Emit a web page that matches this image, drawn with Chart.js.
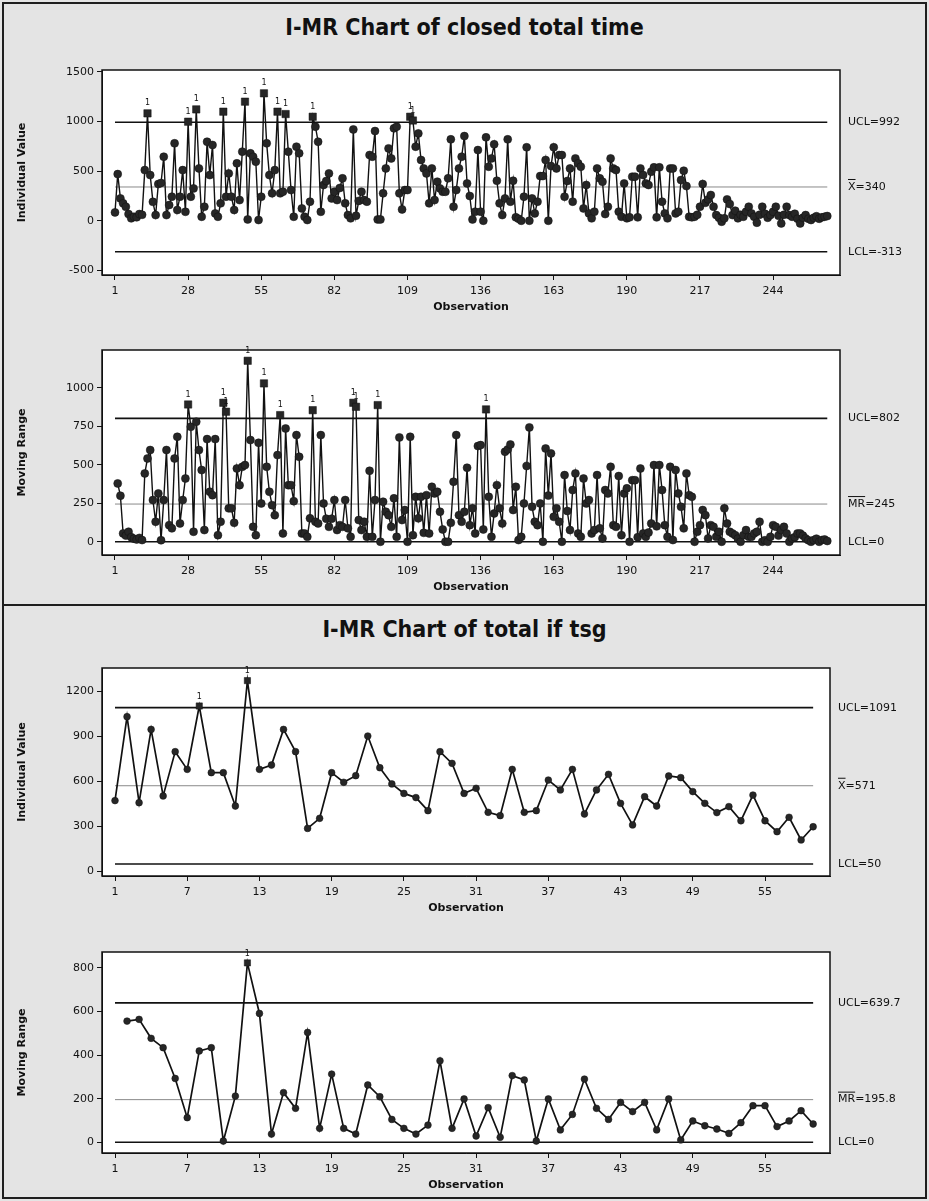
<!DOCTYPE html>
<html>
<head>
<meta charset="utf-8">
<script src="https://cdn.jsdelivr.net/npm/chart.js@4.4.1/dist/chart.umd.min.js"></script>
<style>
  body { margin: 0; background: #e4e4e4; }
  #page { position: relative; width: 929px; height: 1201px; overflow: hidden; background: #e4e4e4; }
  .frame { position: absolute; left: 2px; width: 921px; border: 2px solid #1e1e1e; }
  .title { position: absolute; left: 0; width: 929px; text-align: center; font: bold 23px "DejaVu Sans Condensed", "DejaVu Sans", sans-serif; color: #111; }
  canvas { position: absolute; left: 0; }
</style>
</head>
<body>
<div id="page">
  <div class="frame" style="top:2px;height:600px"></div>
  <div class="frame" style="top:604px;height:591px"></div>
  <div class="title" style="top:14px">I-MR Chart of closed total time</div>
  <div class="title" style="top:616px">I-MR Chart of total if tsg</div>
  <canvas id="closedI" width="929" height="254" style="top:60px"></canvas>
  <canvas id="closedMR" width="929" height="254" style="top:340px"></canvas>
  <canvas id="tsgI" width="929" height="257" style="top:658px"></canvas>
  <canvas id="tsgMR" width="929" height="250" style="top:942px"></canvas>
</div>
<script>
// closed total time, individual values (obs 1..264)
const closedIndividual = [
    84, 470, 225, 175, 140, 67, 24, 40, 35, 67,
    60, 510, 1082, 460, 190, 57, 370, 380, 645, 57,
    158, 242, 780, 108, 242, 510, 90, 998, 242, 326,
    1122, 527, 40, 141, 796, 460, 763, 74, 40, 175,
    1099, 242, 477, 242, 108, 578, 208, 696, 1200, 13,
    679, 645, 595, 7, 242, 1284, 780, 460, 276, 510,
    1099, 276, 292, 1075, 696, 309, 40, 746, 679, 124,
    40, 7, 192, 1048, 948, 796, 90, 360, 400, 477,
    225, 292, 208, 330, 427, 175, 57, 24, 920, 50,
    200, 292, 208, 192, 662, 645, 904, 13, 13, 276,
    527, 729, 628, 931, 948, 276, 114, 309, 309, 1048,
    1010, 746, 880, 612, 527, 477, 175, 527, 208, 393,
    326, 292, 292, 427, 820, 141, 309, 527, 645, 853,
    376, 249, 13, 91, 712, 91, 0, 840, 544, 628,
    770, 403, 175, 57, 225, 820, 192, 403, 34, 20,
    0, 242, 740, 0, 225, 74, 192, 450, 450, 612,
    0, 551, 740, 527, 662, 662, 242, 400, 527, 192,
    628, 578, 544, 124, 360, 74, 24, 91, 527, 427,
    393, 67, 141, 628, 527, 510, 91, 40, 376, 24,
    34, 444, 444, 34, 527, 460, 376, 360, 494, 538,
    34, 538, 192, 74, 24, 527, 527, 74, 91, 410,
    504, 349, 40, 34, 40, 60, 141, 370, 181, 215,
    259, 141, 57, 30, -10, 24, 215, 168, 57, 101,
    24, 60, 40, 90, 141, 74, 40, -20, 60, 141,
    70, 30, 57, 90, 141, 50, -27, 60, 141, 57,
    40, 70, 20, -27, 30, 57, 20, 7, 30, 45,
    20, 34, 40, 47
];

// closed total time, moving ranges (obs 2..264)
const closedMovingRange = [
    379, 299, 54, 40, 65, 30, 20, 15, 25, 11,
    444, 541, 596, 271, 130, 314, 10, 271, 596, 108,
    87, 541, 682, 119, 271, 411, 892, 747, 65, 780,
    596, 466, 76, 667, 325, 303, 667, 43, 130, 903,
    845, 217, 217, 123, 476, 368, 487, 498, 1176, 661,
    97, 43, 643, 249, 1029, 487, 325, 238, 173, 563,
    823, 54, 736, 368, 368, 264, 693, 552, 54, 54,
    32, 152, 855, 130, 119, 693, 249, 150, 97, 150,
    271, 76, 108, 97, 271, 87, 32, 903, 877, 141,
    76, 130, 32, 461, 32, 271, 888, 0, 260, 195,
    173, 97, 282, 32, 678, 141, 206, 0, 682, 43,
    292, 152, 292, 58, 303, 54, 357, 314, 325, 195,
    80, 0, 0, 123, 390, 693, 173, 130, 195, 481,
    108, 217, 54, 622, 628, 80, 860, 292, 32, 184,
    368, 217, 119, 585, 600, 632, 206, 357, 11, 32,
    249, 492, 743, 227, 130, 108, 249, 0, 606, 300,
    574, 162, 217, 130, 0, 433, 200, 76, 336, 444,
    54, 32, 411, 249, 271, 54, 76, 433, 87, 22,
    336, 314, 487, 108, 97, 427, 43, 314, 347, 0,
    400, 400, 30, 476, 54, 32, 60, 119, 498, 100,
    498, 336, 108, 32, 487, 11, 466, 314, 227, 87,
    444, 303, 292, 0, 65, 108, 206, 173, 22, 108,
    97, 32, 65, 0, 217, 119, 65, 54, 43, 20,
    0, 43, 76, 32, 32, 54, 65, 130, 0, 10,
    0, 32, 108, 97, 40, 76, 97, 54, 0, 22,
    30, 54, 54, 40, 22, 10, 0, 11, 20, 0,
    11, 15, 5
];

// total if tsg, individual values (obs 1..59)
const tsgIndividual = [
    472, 1031, 458, 946, 503, 798, 680, 1102, 658, 658,
    436, 1271, 680, 709, 946, 798, 287, 354, 658, 594,
    638, 902, 691, 583, 520, 492, 405, 798, 720, 520,
    554, 394, 372, 680, 394, 405, 609, 543, 680, 383,
    543, 647, 454, 310, 498, 436, 636, 625, 532, 454,
    392, 432, 338, 509, 338, 265, 361, 210, 298
];

// total if tsg, moving ranges (obs 2..59)
const tsgMovingRange = [
    556, 564, 477, 434, 293, 113, 419, 434, 6, 212,
    823, 591, 38, 228, 156, 504, 64, 313, 64, 38,
    263, 209, 105, 64, 38, 79, 374, 64, 199, 29,
    159, 23, 306, 286, 6, 199, 57, 128, 290, 156,
    105, 183, 141, 183, 57, 199, 11, 98, 76, 61,
    41, 90, 168, 168, 72, 98, 145, 84
];

// control limits: [UCL, centre, LCL]
const closedILimits = [992, 340, -313];
const closedMRLimits = [802, 245, 0];
const tsgILimits = [1091, 571, 50];
const tsgMRLimits = [639.7, 195.8, 0];

// tick labels
const closedObsTicks = [1, 28, 55, 82, 109, 136, 163, 190, 217, 244];
const tsgObsTicks = [1, 7, 13, 19, 25, 31, 37, 43, 49, 55];
const closedIYTicks = [-500, 0, 500, 1000, 1500];
const closedMRYTicks = [0, 250, 500, 750, 1000];
const tsgIYTicks = [0, 300, 600, 900, 1200];
const tsgMRYTicks = [0, 200, 400, 600, 800];

const FONT = '"DejaVu Sans", Verdana, sans-serif';

const spcPlugin = {
    id: "spc",
    beforeDraw(chart) {
        const a = chart.chartArea, c = chart.ctx;
        c.save();
        c.fillStyle = "#ffffff";
        c.fillRect(a.left, a.top, a.right - a.left, a.bottom - a.top);
        c.restore();
    },
    afterDraw(chart, args, o) {
        const a = chart.chartArea, c = chart.ctx, y = chart.scales.y;
        c.save();
        c.strokeStyle = "#111";
        c.lineWidth = 1.5;
        c.strokeRect(a.left, a.top, a.right - a.left, a.bottom - a.top);

        // limit labels on the right
        c.fillStyle = "#111";
        c.font = "11px " + FONT;
        c.textBaseline = "middle";
        c.textAlign = "left";
        o.labels.forEach(function (lab, i) {
            const py = y.getPixelForValue(o.limits[i]);
            const px = a.right + o.labelGap;
            c.fillText(lab[0] + lab[1], px, py);
            if (lab[2]) {
                const w = c.measureText(lab[0]).width;
                c.lineWidth = 1;
                c.beginPath();
                c.moveTo(px, py - 7.5);
                c.lineTo(px + w, py - 7.5);
                c.stroke();
            }
        });

        // "1" above out-of-control points
        c.font = "8px " + FONT;
        c.textAlign = "center";
        c.textBaseline = "bottom";
        const meta = chart.getDatasetMeta(0);
        meta.data.forEach(function (pt, i) {
            if (o.values[i] > o.limits[0]) {
                c.fillText("1", pt.x, pt.y - o.radius - 2);
            }
        });
        c.restore();
    }
};

function buildChart(id, cfg) {
    const pts = cfg.values.map(function (v, i) {
        return { x: i + cfg.firstObs, y: v };
    });
    const n = cfg.lastObs;
    const limitSets = cfg.limits.map(function (v, i) {
        return {
            data: [{ x: 1, y: v }, { x: n, y: v }],
            borderColor: i === 1 ? "#8a8a8a" : "#111",
            borderWidth: i === 1 ? 1 : 1.6,
            pointRadius: 0,
            fill: false
        };
    });
    const ucl = cfg.limits[0];
    new Chart(document.getElementById(id).getContext("2d"), {
        type: "line",
        data: {
            datasets: [
                {
                    data: pts,
                    borderColor: "#111",
                    borderWidth: cfg.lineWidth,
                    backgroundColor: "#262626",
                    pointBackgroundColor: "#262626",
                    pointBorderColor: "#111",
                    pointBorderWidth: 0.5,
                    pointStyle: function (ctx) {
                        return ctx.raw && ctx.raw.y > ucl ? "rect" : "circle";
                    },
                    pointRadius: function (ctx) {
                        return ctx.raw && ctx.raw.y > ucl ? cfg.radius * 1.3 : cfg.radius;
                    },
                    fill: false
                }
            ].concat(limitSets)
        },
        options: {
            responsive: false,
            animation: false,
            layout: { padding: { left: 0, right: cfg.padRight, top: 10, bottom: 0 } },
            plugins: {
                legend: { display: false },
                tooltip: { enabled: false },
                spc: {
                    limits: cfg.limits,
                    labels: cfg.labels,
                    values: cfg.values,
                    radius: cfg.radius,
                    labelGap: cfg.labelGap
                }
            },
            scales: {
                x: {
                    type: "linear",
                    min: cfg.xMin,
                    max: cfg.xMax,
                    afterBuildTicks: function (s) {
                        s.ticks = cfg.xTicks.map(function (v) { return { value: v }; });
                    },
                    afterFit: function (s) { s.height = 39; },
                    ticks: {
                        autoSkip: false, color: "#111", padding: 5,
                        font: { family: FONT, size: 11 },
                        callback: function (v) { return String(v); }
                    },
                    grid: { drawOnChartArea: false, drawTicks: true, tickLength: 5, color: "#111" },
                    border: { display: true, color: "#111", width: 1 },
                    title: { display: true, text: "Observation", color: "#111", padding: { top: 0, bottom: 0 }, font: { family: FONT, size: 11, weight: "bold" } }
                },
                y: {
                    type: "linear",
                    min: cfg.yMin,
                    max: cfg.yMax,
                    afterBuildTicks: function (s) {
                        s.ticks = cfg.yTicks.map(function (v) { return { value: v }; });
                    },
                    afterFit: function (s) { s.width = 102; },
                    ticks: {
                        color: "#111", padding: 3,
                        font: { family: FONT, size: 11 },
                        callback: function (v) { return String(v); }
                    },
                    grid: { drawOnChartArea: false, drawTicks: true, tickLength: 5, color: "#111" },
                    border: { display: true, color: "#111", width: 1 },
                    title: { display: true, text: cfg.yTitle, color: "#111", padding: { top: 16, bottom: 0 }, font: { family: FONT, size: 11, weight: "bold" } }
                }
            }
        },
        plugins: [spcPlugin]
    });
}

buildChart("closedI", {
    values: closedIndividual, firstObs: 1, lastObs: closedIndividual.length,
    limits: closedILimits,
    labels: [["UCL", "=992"], ["X", "=340", true], ["LCL", "=-313"]],
    xMin: -3.8, xMax: 268.7, xTicks: closedObsTicks,
    yMin: -547, yMax: 1519, yTicks: closedIYTicks,
    yTitle: "Individual Value", radius: 4, lineWidth: 1.4, padRight: 89, labelGap: 8
});
buildChart("closedMR", {
    values: closedMovingRange, firstObs: 2, lastObs: closedMovingRange.length + 1,
    limits: closedMRLimits,
    labels: [["UCL", "=802"], ["MR", "=245", true], ["LCL", "=0"]],
    xMin: -3.8, xMax: 268.7, xTicks: closedObsTicks,
    yMin: -86, yMax: 1246, yTicks: closedMRYTicks,
    yTitle: "Moving Range", radius: 4, lineWidth: 1.4, padRight: 89, labelGap: 8
});
buildChart("tsgI", {
    values: tsgIndividual, firstObs: 1, lastObs: tsgIndividual.length,
    limits: tsgILimits,
    labels: [["UCL", "=1091"], ["X", "=571", true], ["LCL", "=50"]],
    xMin: -0.08, xMax: 60.4, xTicks: tsgObsTicks,
    yMin: -30, yMax: 1355, yTicks: tsgIYTicks,
    yTitle: "Individual Value", radius: 3.4, lineWidth: 1.7, padRight: 99, labelGap: 8
});
buildChart("tsgMR", {
    values: tsgMovingRange, firstObs: 2, lastObs: tsgMovingRange.length + 1,
    limits: tsgMRLimits,
    labels: [["UCL", "=639.7"], ["MR", "=195.8", true], ["LCL", "=0"]],
    xMin: -0.08, xMax: 60.4, xTicks: tsgObsTicks,
    yMin: -49, yMax: 873, yTicks: tsgMRYTicks,
    yTitle: "Moving Range", radius: 3.4, lineWidth: 1.7, padRight: 99, labelGap: 8
});
</script>
</body>
</html>
